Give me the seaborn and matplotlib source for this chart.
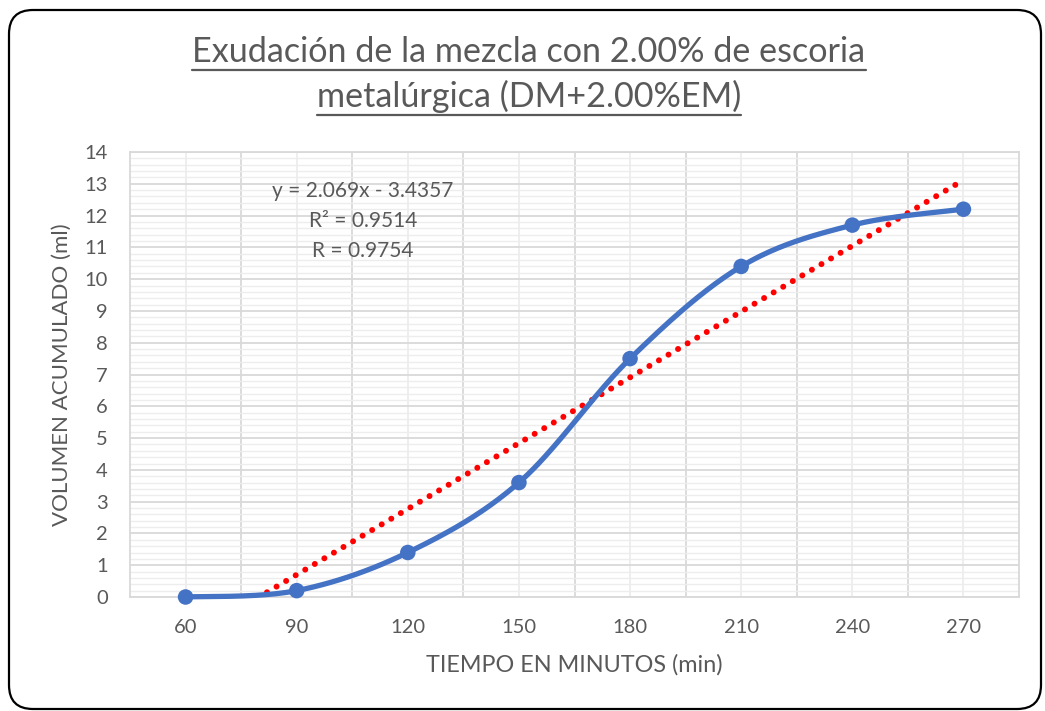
import numpy as np
import pandas as pd
import matplotlib
matplotlib.use("Agg")
import matplotlib.pyplot as plt
import seaborn as sns
from matplotlib.patches import FancyBboxPatch
from matplotlib.lines import Line2D
from matplotlib.ticker import MultipleLocator, FixedLocator

# Data
tiempo = [60, 90, 120, 150, 180, 210, 240, 270]
volumen = [0.0, 0.2, 1.4, 3.6, 7.5, 10.4, 11.7, 12.2]
title_lines = ["Exudación de la mezcla con 2.00% de escoria",
               "metalúrgica (DM+2.00%EM)"]
eq_lines = ["y = 2.069x - 3.4357", "R² = 0.9514", "R = 0.9754"]
x_label = "TIEMPO EN MINUTOS (min)"
y_label = "VOLUMEN ACUMULADO (ml)"

sns.set_theme(style="white")
plt.rcParams["font.family"] = ["Lato", "DejaVu Sans"]

GRAY = "#595959"
BLUE = "#4472C4"
W, H = 1045, 711

fig = plt.figure(figsize=(W / 100, H / 100), dpi=100)
ax = fig.add_axes([130 / W, 1 - 597 / H, (1019 - 130) / W, (597 - 152) / H])

pos = np.arange(len(tiempo))
df = pd.DataFrame({"pos": pos, "tiempo": tiempo, "volumen": volumen})


def smooth(xs, ys, n=40):
    """Cubic Bezier curve through the points, tangents from neighbours."""
    P = np.column_stack([xs, ys]).astype(float)
    Pe = np.vstack([P[0], P, P[-1]])
    t = np.linspace(0, 1, n)[:, None]
    out = []
    for i in range(len(P) - 1):
        p0, p1 = P[i], P[i + 1]
        c1 = p0 + (Pe[i + 2] - Pe[i]) / 6
        c2 = p1 - (Pe[i + 3] - Pe[i + 1]) / 6
        seg = ((1 - t) ** 3) * p0 + 3 * ((1 - t) ** 2) * t * c1 \
            + 3 * (1 - t) * (t ** 2) * c2 + (t ** 3) * p1
        out.append(seg if i == 0 else seg[1:])
    return np.vstack(out)


curve = smooth(df["pos"], df["volumen"])
curve_df = pd.DataFrame({"x": curve[:, 0], "y": curve[:, 1]})

# linear trend line (dotted red)
sns.regplot(data=df, x="pos", y="volumen", ax=ax, ci=None, scatter=False,
            truncate=True,
            line_kws=dict(color="#FF0000", lw=4.3, ls=(0.9, (0.01, 1.85)),
                          dash_capstyle="round", zorder=3))

sns.lineplot(data=curve_df, x="x", y="y", ax=ax, color=BLUE, lw=3.8,
             sort=False, estimator=None, zorder=4, clip_on=False)
sns.scatterplot(data=df, x="pos", y="volumen", ax=ax, color=BLUE, s=125,
                edgecolor="none", zorder=5, clip_on=False)

ax.set_xlim(-0.5, len(tiempo) - 0.5)
ax.set_ylim(0, 14)
ax.xaxis.set_major_locator(FixedLocator(pos))
ax.set_xticklabels([str(v) for v in tiempo])
ax.xaxis.set_minor_locator(FixedLocator(pos[:-1] + 0.5))
ax.yaxis.set_major_locator(MultipleLocator(1))
ax.yaxis.set_minor_locator(MultipleLocator(0.2))

ax.grid(False)
ax.xaxis.grid(True, which="major", color="#EDEDED", lw=1.3)
ax.xaxis.grid(True, which="minor", color="#D9D9D9", lw=1.3)
ax.yaxis.grid(True, which="major", color="#D9D9D9", lw=1.3)
ax.yaxis.grid(True, which="minor", color="#EDEDED", lw=1.0)
ax.set_axisbelow(True)
for s in ax.spines.values():
    s.set_visible(True)
    s.set_color("#D9D9D9")
    s.set_linewidth(1.3)

ax.tick_params(axis="both", which="both", length=0, labelsize=14.5,
               labelcolor=GRAY)
ax.tick_params(axis="x", pad=16)
ax.tick_params(axis="y", pad=16)
ax.set_xlabel("")
ax.set_ylabel("")

fig.text(574 / W, 1 - 665 / H, x_label, ha="center", va="center",
         fontsize=16.8, color=GRAY)
fig.text(62 / W, 1 - 375 / H, y_label, ha="center", va="center",
         rotation=90, fontsize=16, color=GRAY)

fig.text(363 / W, 1 - 221 / H, "\n".join(eq_lines), ha="center",
         va="center", multialignment="center", fontsize=15, color=GRAY,
         linespacing=1.62)

# title, underlined
baselines = [62, 107]
titles = []
for line, yb in zip(title_lines, baselines):
    titles.append(fig.text(529 / W, 1 - yb / H, line, ha="center",
                           va="baseline", fontsize=24.6, color=GRAY))

fig.canvas.draw()
renderer = fig.canvas.get_renderer()
for t, yb in zip(titles, baselines):
    bb = t.get_window_extent(renderer)
    yl = H - yb - 7.5
    fig.add_artist(Line2D([bb.x0, bb.x1], [yl, yl], transform=None,
                          color=GRAY, lw=1.6))

# rounded chart border
fig.add_artist(FancyBboxPatch((9, 2), 1032, 699, transform=None,
                              boxstyle="round,pad=0,rounding_size=24",
                              fill=False, edgecolor="black", lw=1.6))

fig.savefig("out.png", dpi=100)
